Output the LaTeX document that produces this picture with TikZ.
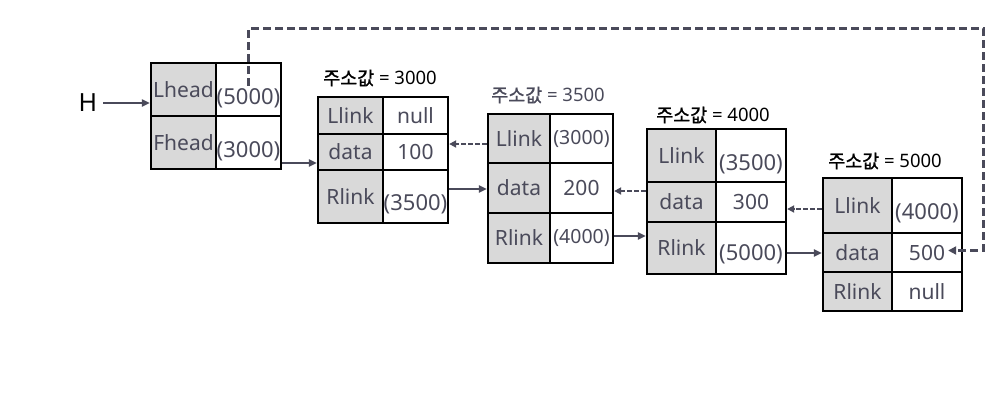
\documentclass[tikz,border=0pt]{standalone}
\usepackage{fontspec}
\setmainfont{Noto Sans}
\newfontfamily\cjk[FakeBold=1.2]{Noto Sans CJK KR}
\usetikzlibrary{arrows.meta,fit,calc}
\definecolor{txt}{HTML}{4A4A5A}
\definecolor{cellgray}{HTML}{D9D9D9}
\definecolor{conncol}{HTML}{4A4A5A}
\newcommand\cellbox[8]{%
  \node[#1, fit={(#3,#4) (#5,#6)}] (#2) {};
  \node[#7] (#2t) at (#2) {#8};}
\begin{document}
\begin{tikzpicture}[x=1pt,y=-1pt,
  lcell/.style={draw=black, line width=2.3pt, fill=cellgray, inner sep=0pt},
  vcell/.style={draw=black, line width=2.3pt, fill=white, inner sep=0pt},
  lab/.style={text=txt, font=\fontsize{21}{24}\selectfont, inner sep=0pt},
  val/.style={text=txt, font=\fontsize{22}{24}\selectfont, inner sep=0pt},
  valsm/.style={text=txt, font=\fontsize{19.5}{22}\selectfont, inner sep=0pt},
  title/.style={font=\fontsize{18.5}{21}\selectfont, inner sep=0pt},
  link/.style={draw=conncol, line width=2pt, -{Triangle[length=8pt,width=7pt]}},
  back/.style={link, dash pattern=on 4.5pt off 2.5pt, -{Triangle[length=7pt,width=7pt]}},
  looplink/.style={draw=conncol, line width=3pt, dash pattern=on 8pt off 4pt, -{Triangle[length=8pt,width=8pt]}}
]
\useasboundingbox (0,0) rectangle (999,408);

% head block
\cellbox{lcell}{hLl}{151}{63}{216}{116}{lab}{Lhead}
\cellbox{vcell}{hLv}{216}{63}{281}{116}{val,yshift=-8.5pt}{(5000)}
\cellbox{lcell}{hFl}{151}{116}{216}{169}{lab}{Fhead}
\cellbox{vcell}{hFv}{216}{116}{281}{169}{val,yshift=-9pt}{(3000)}
\node[font=\fontsize{25}{28}\selectfont, inner sep=0pt] (H) at (88,103) {H};

% node 1 (3000)
\cellbox{lcell}{n1Ll}{318}{97}{383}{134}{lab}{Llink}
\cellbox{vcell}{n1Lv}{383}{97}{448}{134}{lab}{null}
\cellbox{lcell}{n1dl}{318}{134}{383}{170}{lab}{data}
\cellbox{vcell}{n1dv}{383}{134}{448}{170}{lab}{100}
\cellbox{lcell}{n1Rl}{318}{170}{383}{223}{lab}{Rlink}
\cellbox{vcell}{n1Rv}{383}{170}{448}{223}{val,yshift=-7.5pt}{(3500)}
\node[title] (t1) at (380,78) {{\cjk 주소값} = 3000};

% node 2 (3500)
\cellbox{lcell}{n2Ll}{488}{114}{550}{163}{lab}{Llink}
\cellbox{vcell}{n2Lv}{550}{114}{613}{163}{valsm}{(3000)}
\cellbox{lcell}{n2dl}{488}{163}{550}{213}{lab}{data}
\cellbox{vcell}{n2dv}{550}{163}{613}{213}{lab}{200}
\cellbox{lcell}{n2Rl}{488}{213}{550}{263}{lab}{Rlink}
\cellbox{vcell}{n2Rv}{550}{213}{613}{263}{valsm}{(4000)}
\node[title, text=txt] (t2) at (548,95) {{\cjk 주소값} = 3500};

% node 3 (4000)
\cellbox{lcell}{n3Ll}{647}{129}{716}{182}{lab}{Llink}
\cellbox{vcell}{n3Lv}{716}{129}{786}{182}{val,yshift=-9pt}{(3500)}
\cellbox{lcell}{n3dl}{647}{182}{716}{222}{lab}{data}
\cellbox{vcell}{n3dv}{716}{182}{786}{222}{lab}{300}
\cellbox{lcell}{n3Rl}{647}{222}{716}{274}{lab}{Rlink}
\cellbox{vcell}{n3Rv}{716}{222}{786}{274}{val,yshift=-6pt}{(5000)}
\node[title] (t3) at (713,115) {{\cjk 주소값} = 4000};

% node 4 (5000)
\cellbox{lcell}{n4Ll}{823}{178}{892}{233}{lab}{Llink}
\cellbox{vcell}{n4Lv}{892}{178}{962}{233}{val,yshift=-7.5pt}{(4000)}
\cellbox{lcell}{n4dl}{823}{233}{892}{272}{lab}{data}
\cellbox{vcell}{n4dv}{892}{233}{962}{272}{lab}{500}
\cellbox{lcell}{n4Rl}{823}{272}{892}{311}{lab}{Rlink}
\cellbox{vcell}{n4Rv}{892}{272}{962}{311}{lab}{null}
\node[title] (t4) at (885,161) {{\cjk 주소값} = 5000};

% connectors
\draw[link] ([xshift=6pt]H.east) -- (H.east -| hLl.west);
\draw[link] ([yshift=-20.5pt]hFv.east) -- ([yshift=-20.5pt]hFv.east -| n1dl.west);
\draw[back] ([yshift=-5.5pt]n2Ll.west) -- ([yshift=-5.5pt]n2Ll.west -| n1dv.east);
\draw[link] ([yshift=7.5pt]n1Rv.east) -- ([yshift=7.5pt]n1Rv.east -| n2dl.west);
\draw[back] ([yshift=11pt]n3dl.west) -- ([yshift=11pt]n3dl.west -| n2dv.east);
\draw[link] ([yshift=2pt]n2Rv.east) -- ([yshift=2pt]n2Rv.east -| n3Rl.west);
\draw[back] ([yshift=-3.5pt]n4Ll.west) -- ([yshift=-3.5pt]n4Ll.west -| n3dv.east);
\draw[link] ([yshift=-5pt]n3Rv.east) -- ([yshift=-5pt]n3Rv.east -| n4dl.west);
\coordinate (loopNE) at (983,28);
\draw[looplink] ([yshift=4pt]hLv.center) |- (loopNE) |- ([xshift=-15pt,yshift=2pt]n4dv.east);
\end{tikzpicture}
\end{document}
